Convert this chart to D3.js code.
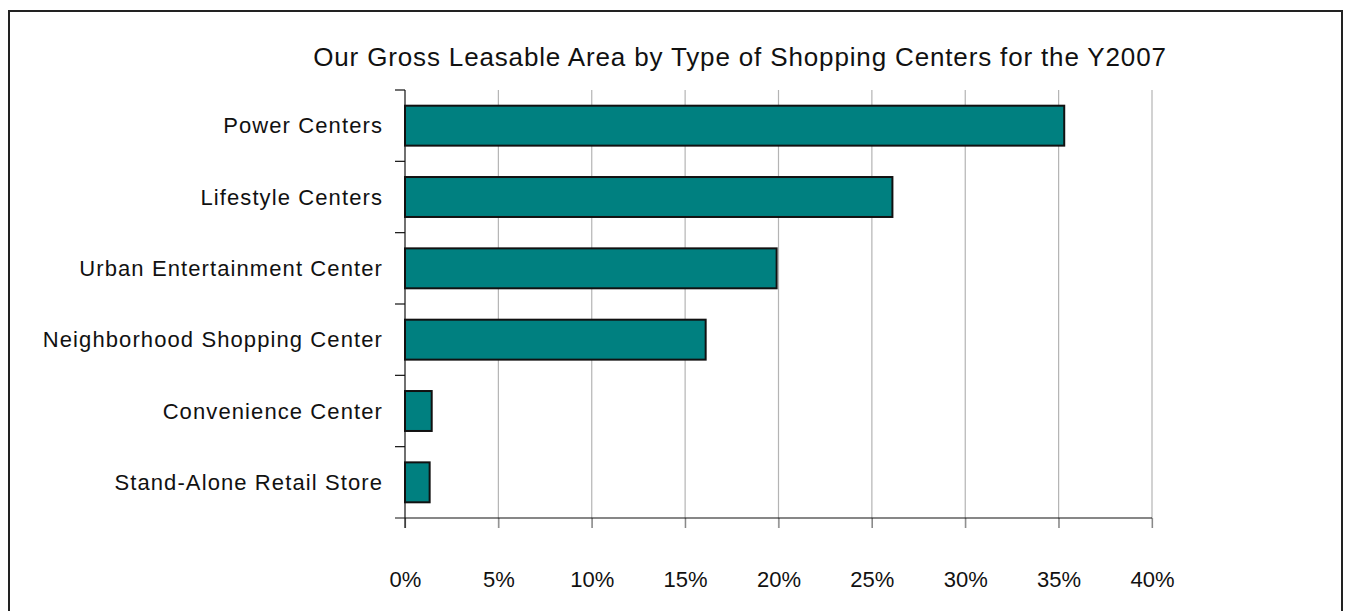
<!DOCTYPE html>
<html>
<head>
<meta charset="utf-8">
<script src="https://cdn.jsdelivr.net/npm/d3@7"></script>
<style>
  body { margin: 0; background: #fff; }
  text { font-family: "Liberation Sans", Arial, sans-serif; fill: #111; }
</style>
</head>
<body>
<script>
var categories = ["Power Centers", "Lifestyle Centers", "Urban Entertainment Center",
    "Neighborhood Shopping Center", "Convenience Center", "Stand-Alone Retail Store"];
var values = [35.3, 26.1, 19.9, 16.1, 1.43, 1.32];
var tickValues = [0, 5, 10, 15, 20, 25, 30, 35, 40];
var title = "Our Gross Leasable Area by Type of Shopping Centers for the Y2007";

var width = 1349,
    height = 611,
    plotLeft = 405,
    plotRight = 1152,
    plotTop = 90,
    plotBottom = 518;

var svg = d3.select('body').append('svg')
    .attr('width', width)
    .attr('height', height);

// outer frame
svg.append('rect')
    .attr('x', 9)
    .attr('y', 11)
    .attr('width', 1333)
    .attr('height', 640)
    .attr('fill', 'none')
    .attr('stroke', '#222')
    .attr('stroke-width', 2);

var x = d3.scaleLinear().domain([0, 40]).range([plotLeft, plotRight]);
var y = d3.scaleBand().domain(categories).range([plotTop, plotBottom]).paddingInner(0.44).paddingOuter(0.22);

// grid lines
svg.append('g')
    .selectAll('line')
    .data(tickValues.slice(1))
    .enter()
    .append('line')
    .attr('x1', d => x(d))
    .attr('x2', d => x(d))
    .attr('y1', plotTop)
    .attr('y2', plotBottom + 10)
    .attr('stroke', '#b4b4b4')
    .attr('stroke-width', 1.2);

// bars
svg.append('g')
    .selectAll('rect')
    .data(values)
    .enter()
    .append('rect')
    .attr('x', x(0))
    .attr('y', (d, i) => y(categories[i]))
    .attr('width', d => x(d) - x(0))
    .attr('height', y.bandwidth())
    .attr('fill', '#008080')
    .attr('stroke', '#111')
    .attr('stroke-width', 2);

// x axis
var xAxis = svg.append('g')
    .attr('transform', 'translate(0,' + plotBottom + ')')
    .call(d3.axisBottom(x).tickValues(tickValues).tickSize(10).tickFormat(d => d + '%'));
xAxis.select('.domain').remove();
xAxis.selectAll('.tick line').attr('stroke', '#888').attr('stroke-width', 1.2);
xAxis.selectAll('.tick text')
    .attr('y', 69)
    .attr('dy', null)
    .style('font-size', '22px')
    .style('font-family', '"Liberation Sans", Arial, sans-serif')
    .attr('fill', '#111');
svg.append('line')
    .attr('x1', plotLeft - 10).attr('x2', plotRight)
    .attr('y1', plotBottom).attr('y2', plotBottom)
    .attr('stroke', '#111').attr('stroke-width', 1.2);

// y axis
var band = (plotBottom - plotTop) / categories.length;
svg.append('line')
    .attr('x1', plotLeft).attr('x2', plotLeft)
    .attr('y1', plotTop).attr('y2', plotBottom + 10)
    .attr('stroke', '#111').attr('stroke-width', 1.2);
svg.append('g')
    .selectAll('line')
    .data(d3.range(categories.length))
    .enter()
    .append('line')
    .attr('x1', plotLeft - 10).attr('x2', plotLeft)
    .attr('y1', i => plotTop + i * band)
    .attr('y2', i => plotTop + i * band)
    .attr('stroke', '#111').attr('stroke-width', 1.2);

svg.append('g')
    .selectAll('text')
    .data(categories)
    .enter()
    .append('text')
    .attr('x', 383)
    .attr('y', d => y(d) + y.bandwidth() / 2)
    .attr('dy', '0.35em')
    .attr('text-anchor', 'end')
    .style('font-size', '22px')
    .style('letter-spacing', '1.1px')
    .text(d => d);

svg.append('text')
    .attr('x', 740)
    .attr('y', 66)
    .attr('text-anchor', 'middle')
    .style('font-size', '26px')
    .style('letter-spacing', '0.85px')
    .text(title);
</script>
</body>
</html>
